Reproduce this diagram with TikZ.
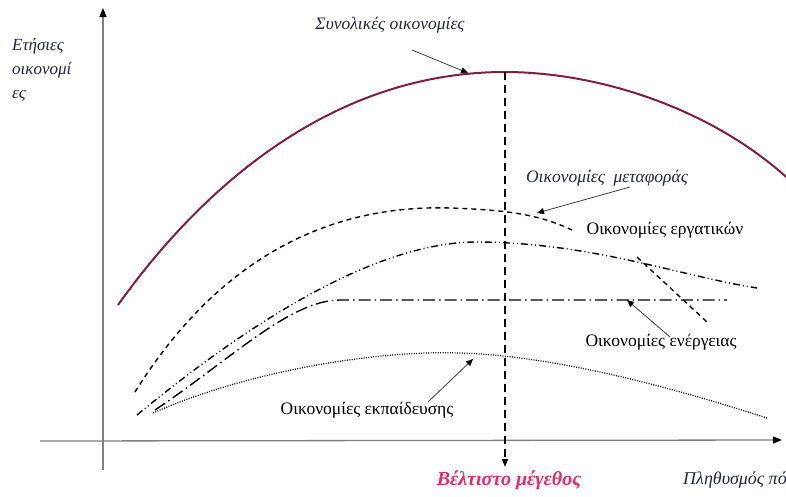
\documentclass[tikz,border=0pt]{standalone}
\usepackage{fontspec}
\setmainfont{Liberation Serif}
\usetikzlibrary{arrows.meta}
\definecolor{curvered}{RGB}{128,30,68}
\definecolor{labelc}{RGB}{38,38,62}
\definecolor{optc}{RGB}{232,42,102}
\begin{document}
\begin{tikzpicture}[x=1pt,y=-1pt,
  axis/.style={draw=gray, line width=1.3pt, -{Triangle[length=9pt,width=7pt,color=black]}},
  pointer/.style={draw=gray!50!black, line width=0.8pt, -{Triangle[length=7pt,width=6pt,color=black]}},
  lbl/.style={font=\fontsize{17.5}{19}\selectfont, text=black, inner sep=0pt},
  ilbl/.style={font=\fontsize{17.5}{19}\selectfont\itshape, text=labelc, inner sep=0pt},
  totalcurve/.style={draw=curvered, line width=2pt},
  transcurve/.style={draw=black, line width=1.4pt, dash pattern=on 5pt off 4pt},
  labcurve/.style={draw=black, line width=1.4pt, dash pattern=on 7pt off 3pt on 1pt off 3pt on 1pt off 3pt},
  enercurve/.style={draw=black, line width=1.4pt, dash pattern=on 12pt off 4pt on 1.5pt off 4pt},
  educurve/.style={draw=black, line width=1.2pt, dash pattern=on 1pt off 1.4pt},
  optline/.style={draw=black, line width=1.6pt, dash pattern=on 8pt off 5pt, -{Triangle[length=8pt,width=6pt,color=black]}}
]
\useasboundingbox (0,0) rectangle (786,496);

% axes
\coordinate (yb) at (103,470);
\coordinate (yt) at (103,8);
\coordinate (xl) at (40,441);
\coordinate (xr) at (782,440);
\draw[axis] (yb) -- (yt);
\draw[axis] (xl) -- (xr);

% total economies
\draw[totalcurve] (118,305) .. controls (200,190) and (330,72) .. (505,72)
                  .. controls (600,72) and (720,110) .. (800,190);

% transport (dashed)
\draw[transcurve] (135,392) .. controls (230,240) and (350,205) .. (450,208)
                  .. controls (510,210) and (540,215) .. (572,230);

% labour (dash dot dot)
\draw[labcurve] (137,415) .. controls (240,330) and (370,243) .. (475,242)
                .. controls (590,242) and (680,276) .. (757,288);

% extra dashed segment
\coordinate (xa) at (637,257);
\coordinate (xb) at (707,322);
\draw[transcurve] (xa) -- (xb);

% energy (dash dot)
\draw[enercurve] (155,410) .. controls (230,360) and (290,300) .. (340,300) -- (727,300);

% education (dotted)
\draw[educurve] (153,413) .. controls (250,370) and (380,350) .. (460,353)
                .. controls (560,356) and (680,390) .. (767,418);

% optimum vertical line
\coordinate (vt) at (505,72);
\coordinate (vb) at (505,467);
\draw[optline] (vt) -- (vb);

% labels
\node[ilbl, align=left, anchor=north west, font=\fontsize{17}{24}\selectfont\itshape] (ylab) at (12,38) {Ετήσιες\\οικονομί\\ες};
\node[ilbl] (tot) at (390,25) {Συνολικές οικονομίες};
\node[ilbl] (trans) at (607,178) {Οικονομίες\ \ μεταφοράς};
\node[lbl] (lab) at (665,230) {Οικονομίες εργατικών};
\node[lbl] (ener) at (661,342) {Οικονομίες ενέργειας};
\node[lbl] (edu) at (367,410) {Οικονομίες εκπαίδευσης};
\node[inner sep=0pt, text=optc, font=\fontsize{20}{22}\selectfont\bfseries\itshape] (opt) at (509,480) {Βέλτιστο μέγεθος};
\node[ilbl, anchor=west, font=\fontsize{18}{20}\selectfont\itshape] (pop) at (683,480) {Πληθυσμός πό};

% pointers
\coordinate (tots) at (412,50);
\coordinate (tote) at (468,73);
\draw[pointer] (tots) -- (tote);
\coordinate (trs) at (630,187);
\coordinate (tre) at (537,213);
\draw[pointer] (trs) -- (tre);
\coordinate (ens) at (670,337);
\coordinate (ene) at (627,300);
\draw[pointer] (ens) -- (ene);
\coordinate (eds) at (428,402);
\coordinate (ede) at (473,359);
\draw[pointer] (eds) -- (ede);
\end{tikzpicture}
\end{document}
